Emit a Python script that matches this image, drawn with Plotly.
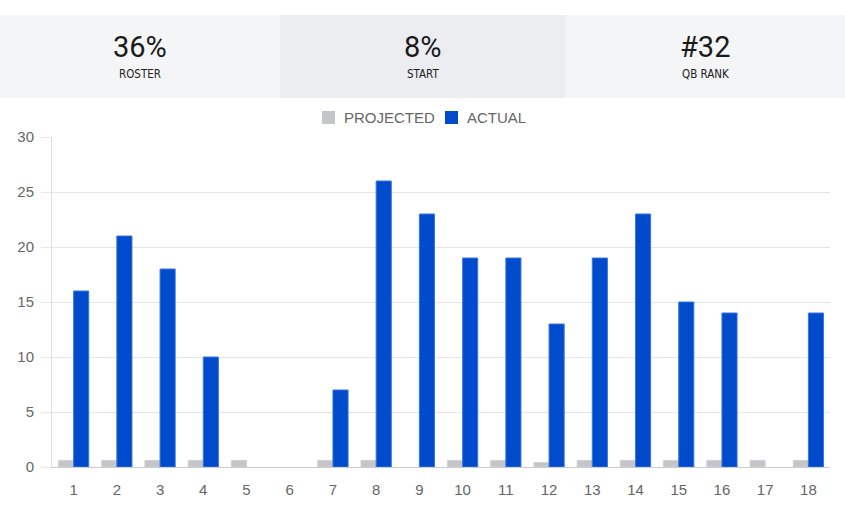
import plotly.graph_objects as go

weeks = [str(i) for i in range(1, 19)]
projected = [0.6, 0.6, 0.6, 0.6, 0.6, 0, 0.6, 0.6, 0, 0.6, 0.6, 0.4, 0.6, 0.6, 0.6, 0.6, 0.6, 0.6]
actual = [16, 21, 18, 10, 0, 0, 7, 26, 23, 19, 19, 13, 19, 23, 15, 14, 0, 14]
y_ticks = [0, 5, 10, 15, 20, 25, 30]

series_names = ["PROJECTED", "ACTUAL"]
series_colors = ["#c4c5c9", "#004bcc"]
series_borders = ["#d0d1d4", "#3b76e0"]

stat_values = ["36%", "8%", "#32"]
stat_labels = ["ROSTER", "START", "QB RANK"]
stat_bg = ["#f4f5f7", "#ecedf0", "#f4f5f7"]

W, H = 845, 517
ML, MR, MT, MB = 52, 15, 137, 50
PW, PH = W - ML - MR, H - MT - MB


def px(x):
    return (x - ML) / PW


def py(y):
    return (H - MB - y) / PH


fig = go.Figure()
for name, vals, col, bcol in zip(series_names, [projected, actual], series_colors, series_borders):
    fig.add_trace(go.Bar(
        x=weeks, y=vals, name=name, showlegend=False,
        marker=dict(color=col, line=dict(color=bcol, width=[1 if v > 0 else 0 for v in vals])),
    ))

shapes = []
annotations = []
edges = [0, 280, 565, 845]
for i in range(3):
    shapes.append(dict(
        type="rect", xref="paper", yref="paper",
        x0=px(edges[i]), x1=px(edges[i + 1]), y0=py(98), y1=py(15),
        fillcolor=stat_bg[i], line=dict(width=0), layer="below",
    ))
    cx = px((edges[i] + edges[i + 1]) / 2)
    annotations.append(dict(
        xref="paper", yref="paper", x=cx, y=py(65), text=stat_values[i],
        showarrow=False, xanchor="center", yanchor="bottom", borderpad=0,
        font=dict(family="Roboto, sans-serif", size=29, color="#1a1a1a"),
    ))
    annotations.append(dict(
        xref="paper", yref="paper", x=cx, y=py(65.5), text=stat_labels[i],
        showarrow=False, xanchor="center", yanchor="top", borderpad=0,
        font=dict(family="DejaVu Sans Condensed, Roboto, sans-serif", size=11.5, color="#222222"),
    ))

# manual legend
legend_sq_x = [322, 445]
legend_txt_x = [342, 465]
for i in range(2):
    shapes.append(dict(
        type="rect", xref="paper", yref="paper",
        x0=px(legend_sq_x[i]), x1=px(legend_sq_x[i] + 13), y0=py(124), y1=py(111),
        fillcolor=series_colors[i], line=dict(width=0),
    ))
    annotations.append(dict(
        xref="paper", yref="paper", x=px(legend_txt_x[i]), y=py(117.5), text=series_names[i],
        showarrow=False, xanchor="left", yanchor="middle",
        font=dict(family="Liberation Sans, Arial, sans-serif", size=15, color="#666666"),
    ))

fig.update_layout(
    width=W, height=H,
    margin=dict(l=ML, r=MR, t=MT, b=MB, pad=0),
    paper_bgcolor="white", plot_bgcolor="white",
    barmode="group", bargap=0.3, bargroupgap=0,
    font=dict(family="Liberation Sans, Arial, sans-serif", size=15, color="#666666"),
    showlegend=False,
    shapes=shapes,
    annotations=annotations,
    xaxis=dict(
        type="category", showgrid=False, showline=True, linecolor="#cccccc", linewidth=1,
        ticks="", tickfont=dict(size=15, color="#666666"), ticklabelstandoff=9,
    ),
    yaxis=dict(
        range=[0, 30], tickvals=y_ticks, showgrid=True, gridcolor="#e6e6e6", gridwidth=1,
        showline=True, linecolor="#dddddd", linewidth=1, zeroline=False,
        ticks="outside", ticklen=10, tickcolor="#e6e6e6",
        tickfont=dict(size=15, color="#666666"), ticklabelstandoff=4,
    ),
)

fig.write_html(
    "out.html",
    config={"displayModeBar": False},
    post_script="document.body.style.margin='0';document.body.style.overflow='hidden';",
)
